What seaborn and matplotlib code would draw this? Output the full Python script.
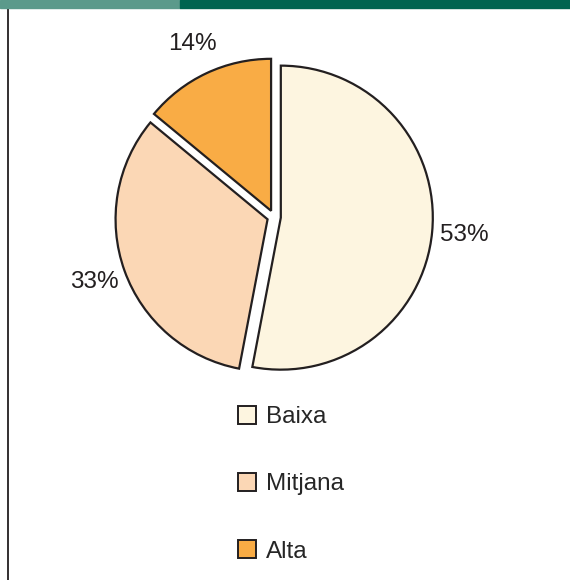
import matplotlib
matplotlib.use('Agg')
import matplotlib.pyplot as plt
from matplotlib.patches import Patch, Rectangle
from matplotlib.lines import Line2D
import seaborn as sns

# dades
categories = ['Baixa', 'Mitjana', 'Alta']
values = [53, 33, 14]
colors = ['#FDF5E0', '#FBD7B5', '#F9AC45']

sns.set_style('white')
plt.rcParams['font.family'] = ['Liberation Sans', 'DejaVu Sans']

fig = plt.figure(figsize=(5.7, 5.8), dpi=100)

# franja superior i línia esquerra
fig.patches.append(Rectangle((0, 1 - 8 / 580), 180 / 570, 8 / 580, transform=fig.transFigure,
                             color='#5B9A8B', zorder=5))
fig.patches.append(Rectangle((180 / 570, 1 - 8 / 580), 390 / 570, 8 / 580, transform=fig.transFigure,
                             color='#006450', zorder=5))
fig.lines.append(Line2D([7.5 / 570, 7.5 / 570], [0, 1 - 8 / 580], transform=fig.transFigure,
                        color='#231F20', linewidth=1.3))

# pastís
L = 1.4
r_px = 152
w = 2 * L * r_px
cx, cy = 274, 217
ax = fig.add_axes([(cx - w / 2) / 570, (580 - cy - w / 2) / 580, w / 570, w / 580])
wedges, texts, autotexts = ax.pie(
    values, colors=colors, startangle=90, counterclock=False,
    explode=[0.045, 0.045, 0.045],
    autopct=lambda p: '{:.0f}%'.format(p), pctdistance=1.21,
    wedgeprops=dict(edgecolor='#231F20', linewidth=1.6),
    textprops=dict(fontsize=17.5, color='#231F20'))
ax.set_xlim(-L, L)
ax.set_ylim(-L, L)
ax.set_aspect('equal')
ax.axis('off')

# llegenda
handles = [Patch(facecolor=c, edgecolor='#231F20', linewidth=1.4) for c in colors]
fig.legend(handles, categories, loc='upper left', bbox_to_anchor=(228 / 570, 1 - 396 / 580),
           frameon=False, fontsize=17.5, labelspacing=1.85, handlelength=0.75, handleheight=0.75,
           handletextpad=0.4, borderaxespad=0)

fig.savefig('out.png', dpi=100)
